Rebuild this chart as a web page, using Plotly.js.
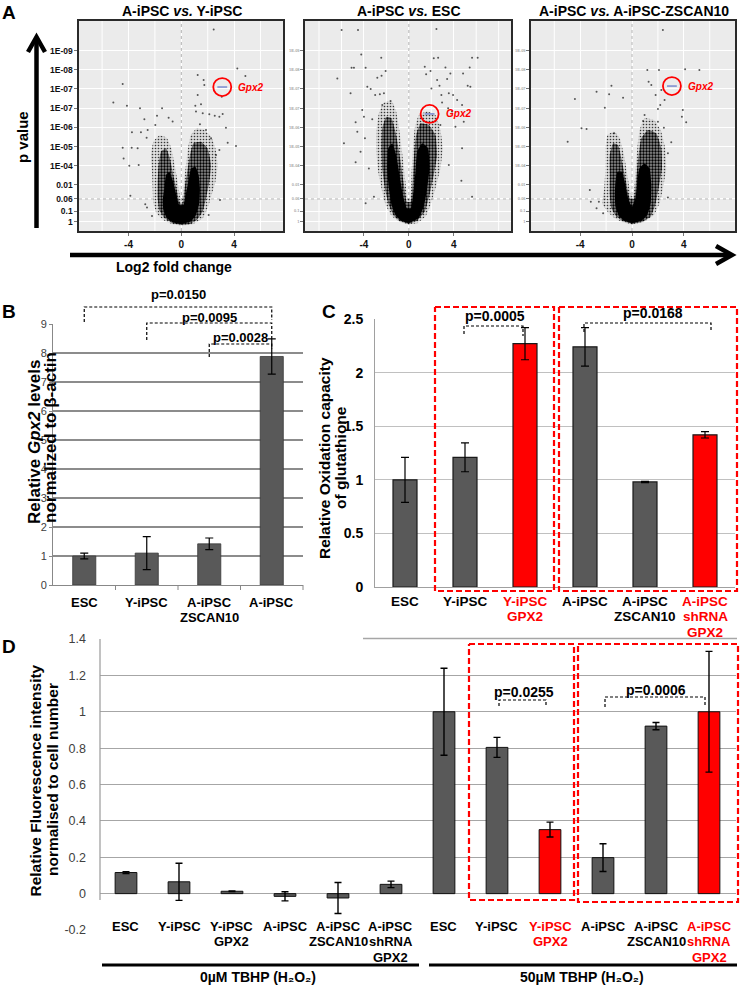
<!DOCTYPE html>
<html><head><meta charset="utf-8">
<script src="https://cdn.plot.ly/plotly-3.0.1.min.js"></script>
<style>html,body{margin:0;padding:0;background:#fff}#chart{width:747px;height:987px}</style>
</head><body><div id="chart"></div>
<script>
// ================= DATA =================
// ---- Panel A : volcano plots (x = log2 fold change, y = p-value scale position) ----
const volcanoTitles = ['A-iPSC <i>vs.</i> Y-iPSC', 'A-iPSC <i>vs.</i> ESC', 'A-iPSC <i>vs.</i> A-iPSC-ZSCAN10'];
const pTickVals = [9.4, 8.4, 7.4, 6.4, 5.4, 4.4, 3.4, 2.4, 1.67, 1.04, 0.49];
const pTickText = ['1E-09', '1E-08', '1E-07', '1E-07', '1E-06', '1E-05', '1E-04', '0.01', '0.06', '0.1', '1'];
const pCutoff = 1.67;           // dotted p = 0.06 line
const fcTickVals = [-4, 0, 4];
const fcTickText = ['-4', '0', '4'];
const geneName = 'Gpx2';

// volcano 1 : A-iPSC vs Y-iPSC
const v1OuterX = [0,-0.66,-1.36,-1.87,-2.12,-2.17,-2.22,-2.30,-2.12,-1.67,-1.11,-0.76,-0.51,-0.28,-0.10,0,0.10,0.20,0.35,0.51,0.71,1.16,1.74,2.25,2.58,2.75,2.58,2.25,1.99,1.62,0.86];
const v1OuterY = [0.28,0.35,0.57,0.92,1.44,2.22,3.09,3.96,4.65,4.97,4.86,4.31,3.44,2.57,1.79,1.61,1.79,2.57,3.44,4.31,4.97,5.35,5.26,4.91,4.31,3.44,2.57,1.79,1.18,0.66,0.35];
const v1MidX = [0,-0.71,-1.29,-1.67,-1.79,-1.79,-1.72,-1.54,-1.16,-0.86,-0.61,-0.35,-0.10,0.10,0.25,0.45,0.66,0.91,1.49,1.99,2.25,2.12,1.87,1.62,1.16,0.61];
const v1MidY = [0.31,0.42,0.69,1.09,1.70,2.57,3.44,4.13,4.31,3.78,2.92,2.14,1.44,1.44,2.22,3.09,3.96,4.57,4.65,4.31,3.44,2.57,1.70,1.01,0.57,0.35];
const v1CoreX = [0,-0.66,-1.11,-1.36,-1.41,-1.29,-1.16,-0.91,-0.66,-0.40,-0.15,0.15,0.35,0.56,0.73,1.06,1.31,1.41,1.36,1.11,0.73];
const v1CoreY = [0.35,0.45,0.69,1.09,1.61,2.22,2.92,3.09,2.66,1.96,1.35,1.35,1.96,2.66,3.26,3.35,2.92,2.22,1.44,0.83,0.49];
const v1PtsX = [2.45,4.24,4.85,1.24,1.69,1.74,-4.44,-5.15,-4.12,-3.13,-1.46,-1.84,-2.8,-0.96,-0.66,-1.97,-2.55,-3.74,-3.06,-2.63,-4.44,-3.76,-3.31,-4.37,-3.94,-3.23,-3.86,-2.73,-2.6,-2.22,1.24,1.06,1.49,1.11,1.62,2.12,2.53,3.13,2.88,3.38,3.06,3.51,4.14,2.88,2.63,2.93,2.07,1.41,1.87,2.25];
const v1PtsY = [10.5,8.47,8.07,8.13,7.86,7.6,7.66,6.70,6.53,6.39,6.39,6.0,5.82,5.9,5.7,5.52,5.26,5.14,5.14,4.86,4.34,4.34,4.31,3.78,3.40,3.44,1.84,1.39,1.22,0.78,7.08,6.53,6.6,6.22,6.13,6.08,6.0,6.09,5.95,5.38,7.0,4.6,4.43,4.22,3.96,1.61,0.83,5.56,5.26,4.83];
const v1Gpx2 = [3.1, 7.5];

// volcano 2 : A-iPSC vs ESC
const v2OuterX = [0,-0.74,-1.48,-2.01,-2.37,-2.73,-2.90,-2.90,-2.67,-2.22,-1.54,-1.13,-0.83,-0.53,-0.30,-0.12,0.12,0.24,0.36,0.53,0.89,1.63,2.37,2.81,3.02,2.81,2.37,1.93,1.48,0.74];
const v2OuterY = [0.35,0.45,0.75,1.27,2.05,3.09,4.13,5.17,6.13,6.70,6.77,6.22,5.17,3.78,2.57,1.70,1.70,2.92,4.31,5.35,6.04,6.22,6.04,5.26,4.31,3.26,2.22,1.35,0.75,0.40];
const v2MidX = [0,-0.71,-1.33,-1.78,-2.13,-2.37,-2.43,-2.37,-2.01,-1.54,-1.13,-0.77,-0.47,-0.18,0.18,0.36,0.47,0.65,1.04,1.78,2.37,2.52,2.22,1.84,1.42,0.74];
const v2MidY = [0.38,0.49,0.80,1.35,2.22,3.26,4.31,5.35,5.95,5.87,5.0,3.78,2.57,1.53,1.53,2.74,3.96,5.0,5.61,5.52,5.0,3.96,2.92,1.88,1.01,0.52];
const v2CoreX = [0,-0.65,-1.19,-1.54,-1.78,-1.93,-1.84,-1.48,-1.13,-0.83,-0.53,-0.18,0.18,0.41,0.59,0.74,1.19,1.72,1.84,1.63,1.33,0.89];
const v2CoreY = [0.40,0.52,0.83,1.35,2.22,3.26,4.31,4.57,3.96,2.92,1.88,1.18,1.18,2.05,3.09,4.13,4.57,4.31,3.26,2.22,1.27,0.66];
const v2PtsX = [-5.99,-4.53,2.46,-4.24,-2.46,-5.1,-4.89,-3.85,-6.37,-2.81,-2.43,-2.07,-5.19,-3.7,-3.4,-3.0,-2.58,-2.22,-2.37,-1.63,-4.15,-4.0,-4.74,-3.26,-4.59,-3.91,-5.78,-4.3,-4.74,-3.56,-3.85,-3.11,2.22,2.61,1.42,1.93,3.26,3.41,3.7,4.83,5.42,5.63,6.13,1.54,2.52,2.01,2.73,2.9,3.56,3.94,5.24,5.48,4.3,2.96,3.5,3.85,4.74,4.89,4.15,2.81,4.74,4.68,3.56,5.63];
const v2PtsY = [10.47,10.47,10.52,9.2,9.03,8.5,8.5,8.5,7.95,7.99,8.09,8.33,7.17,7.52,7.4,7.08,7.12,7.17,6.56,6.77,6.3,5.95,5.66,5.82,5.17,4.83,4.57,4.13,3.58,3.26,1.44,1.79,9.0,9.03,8.56,8.33,8.52,7.92,8.21,8.21,8.52,9.03,9.03,8.16,7.86,7.43,7.57,7.08,7.17,7.08,7.57,7.52,6.82,6.7,6.39,6.22,6.56,5.69,5.43,5.52,4.31,2.62,3.44,1.79];
const v2Gpx2 = [1.85, 6.1];

// volcano 3 : A-iPSC vs A-iPSC-ZSCAN10
const v3OuterX = [0,-0.69,-1.33,-1.90,-2.31,-2.15,-2.05,-2.05,-1.90,-1.38,-0.95,-0.62,-0.36,-0.15,0,0.15,0.26,0.41,0.59,0.97,1.69,2.21,2.56,2.64,2.38,2.13,1.69,0.85];
const v3OuterY = [0.35,0.45,0.66,1.01,1.44,2.22,3.26,4.31,5.0,5.17,4.83,3.96,2.92,2.05,1.79,2.05,3.09,4.31,5.26,5.87,5.78,5.26,4.31,3.26,2.22,1.44,0.83,0.45];
const v3MidX = [0,-0.64,-1.21,-1.59,-1.72,-1.72,-1.72,-1.46,-1.08,-0.77,-0.46,-0.18,0.15,0.33,0.51,0.72,1.23,1.87,2.26,2.31,2.05,1.79,1.44,0.72];
const v3MidY = [0.38,0.49,0.75,1.18,1.88,2.92,3.96,4.57,4.48,3.61,2.57,1.70,1.67,2.74,3.96,4.83,5.26,5.09,4.31,3.26,2.22,1.35,0.75,0.45];
const v3CoreX = [0,-0.56,-1.03,-1.28,-1.33,-1.28,-1.13,-0.77,-0.51,-0.26,0,0.26,0.41,0.56,0.97,1.36,1.49,1.44,1.18,0.72];
const v3CoreY = [0.40,0.52,0.80,1.27,1.88,2.57,3.09,3.09,2.40,1.61,1.27,1.70,2.57,3.26,3.52,3.26,2.40,1.44,0.83,0.52];
const v3PtsX = [2.38,1.18,2.08,4.1,5.2,1.28,1.49,2.26,-1.59,-2.74,-1.77,-4.41,-0.69,-2.1,-3.9,-3.51,-4.97,-1.38,1.82,2.18,2.51,2.0,3.92,3.85,4.18,0.97,0.85,2.0,2.46,3.03,2.77,2.77,-3.26,-3.18,-2.56,-2.74,-2.23];
const v3PtsY = [10.47,8.39,8.39,8.42,8.39,7.78,7.6,7.34,7.57,7.26,7.12,6.88,6.94,6.42,5.35,5.31,4.65,5.09,7.08,6.56,6.82,6.35,6.3,5.95,5.66,6.04,5.73,5.69,5.38,4.62,4.05,1.74,2.14,1.53,1.53,1.18,0.92];
const v3Gpx2 = [3.08, 7.55];

// ---- Panel B : relative Gpx2 levels ----
const bLabels = ['ESC', 'Y-iPSC', 'A-iPSC\nZSCAN10', 'A-iPSC'];
const bValues = [1.0, 1.1, 1.42, 7.88];
const bErrors = [0.1, 0.57, 0.2, 0.61];
const bTicks = [0, 1, 2, 3, 4, 5, 6, 7, 8, 9];
const bComparisons = [[0, 3, 'p=0.0150'], [1, 3, 'p=0.0095'], [2, 3, 'p=0.0028']];

// ---- Panel C : oxidation capacity of glutathione ----
const cLabels = ['ESC', 'Y-iPSC', 'Y-iPSC\nGPX2', 'A-iPSC', 'A-iPSC\nZSCAN10', 'A-iPSC\nshRNA\nGPX2'];
const cValues = [1.0, 1.21, 2.27, 2.24, 0.98, 1.42];
const cErrors = [0.21, 0.135, 0.15, 0.18, 0.006, 0.03];
const cGpx2Modified = [0, 0, 1, 0, 0, 1];
const cTicks = [0, 0.5, 1, 1.5, 2, 2.5];
const cComparisons = [[1, 2, 'p=0.0005'], [3, 5, 'p=0.0168']];
const cGroups = [[1, 2], [3, 5]];

// ---- Panel D : fluorescence intensity ----
const dLabels = ['ESC', 'Y-iPSC', 'Y-iPSC\nGPX2', 'A-iPSC', 'A-iPSC\nZSCAN10', 'A-iPSC\nshRNA\nGPX2',
                 'ESC', 'Y-iPSC', 'Y-iPSC\nGPX2', 'A-iPSC', 'A-iPSC\nZSCAN10', 'A-iPSC\nshRNA\nGPX2'];
const dValues = [0.116, 0.065, 0.013, -0.015, -0.024, 0.051, 1.0, 0.804, 0.352, 0.198, 0.921, 1.0];
const dErrors = [0.005, 0.102, 0.002, 0.025, 0.085, 0.018, 0.239, 0.055, 0.041, 0.076, 0.02, 0.332];
const dGpx2Modified = [0, 0, 0, 0, 0, 0, 0, 0, 1, 0, 0, 1];
const dTicks = [-0.2, 0, 0.2, 0.4, 0.6, 0.8, 1, 1.2, 1.4];
const dTreatments = ['0µM TBHP (H₂O₂)', '50µM TBHP (H₂O₂)'];
const dComparisons = [[7, 8, 'p=0.0255'], [9, 11, 'p=0.0006']];
const dGroups = [[7, 8], [9, 11]];

// ================= LAYOUT HELPERS =================
const FONT = 'Liberation Sans, Arial, Helvetica, sans-serif';
const W = 747, H = 987;
const PX = x => x / W;
const PY = y => 1 - y / H;
const RED = '#ff0000', GREY = '#595959';
const BRACKET_DASH = '3px,2px', BOX_DASH = '6px,3px';

const frameV = [
  {l: 79, r: 283, t: 21, b: 231, xr: [-7.75, 7.7], grid: [-6, -2, 2, 6], tk: [-4, 0, 4]},
  {l: 305, r: 511, t: 21, b: 231, xr: [-9.25, 9.1], grid: [-8, -6, -2, 2, 6, 8], tk: [-4, 0, 4]},
  {l: 531, r: 735, t: 21, b: 231, xr: [-7.8, 7.95], grid: [-6, -2, 2, 6], tk: [-4, 0, 4]}
];
const yRangeV = [0, 10.94];
const fB = {l: 53, r: 303, t: 324, b: 585, n: bLabels.length, ly: 602, pitch: 15, fs: 13};
const fC = {l: 375, r: 735, t: 319, b: 587, n: cLabels.length, ly: 601, pitch: 15.5, fs: 13.5};
const fD = {l: 99.5, r: 735.5, t: 639, b: 930, n: dLabels.length, ly: 926, pitch: 15.5, fs: 13};
const catC = (f, i) => f.l + (i + 0.5) * (f.r - f.l) / f.n;
const bnd = (f, k) => f.l + k * (f.r - f.l) / f.n;

const traces = [], annotations = [], shapes = [];
function ann(text, x, y, o = {}) {
  annotations.push(Object.assign({text, x: PX(x), y: PY(y), xref: 'paper', yref: 'paper', showarrow: false,
    xanchor: 'center', yanchor: 'middle', font: {family: FONT, size: 13, color: '#000'}}, o));
}
function line(x0, y0, x1, y1, color, width, dash) {
  shapes.push({type: 'line', xref: 'paper', yref: 'paper', x0: PX(x0), y0: PY(y0), x1: PX(x1), y1: PY(y1),
    line: {color, width, dash: dash || 'solid'}});
}
function path(pts, color, width, dash) {
  const d = pts.map((p, i) => (i ? 'L' : 'M') + PX(p[0]).toFixed(5) + ',' + PY(p[1]).toFixed(5)).join(' ');
  shapes.push({type: 'path', xref: 'paper', yref: 'paper', path: d, fillcolor: 'rgba(0,0,0,0)',
    line: {color, width, dash: dash || 'solid'}});
}
// category labels, one annotation per text line, centred under each category
function catLabels(f, labels, flags) {
  labels.forEach((s, i) => s.split('\n').forEach((t, j) =>
    ann('<b>' + t + '</b>', catC(f, i), f.ly + j * f.pitch,
      {font: {family: FONT, size: f.fs, color: flags && flags[i] ? RED : '#000'}})));
}

const layout = {
  width: W, height: H, margin: {l: 0, r: 0, t: 0, b: 0}, paper_bgcolor: '#fff', plot_bgcolor: 'rgba(0,0,0,0)',
  showlegend: false, font: {family: FONT, color: '#000'}, annotations, shapes
};

// ================= PANEL A =================
const volc = [
  {outer: [v1OuterX, v1OuterY], mid: [v1MidX, v1MidY], core: [v1CoreX, v1CoreY], pts: [v1PtsX, v1PtsY], gene: v1Gpx2},
  {outer: [v2OuterX, v2OuterY], mid: [v2MidX, v2MidY], core: [v2CoreX, v2CoreY], pts: [v2PtsX, v2PtsY], gene: v2Gpx2},
  {outer: [v3OuterX, v3OuterY], mid: [v3MidX, v3MidY], core: [v3CoreX, v3CoreY], pts: [v3PtsX, v3PtsY], gene: v3Gpx2}
];
const cloudStyle = {
  outer: {fillcolor: 'rgba(0,0,0,0.12)', fillpattern: {shape: '.', fgcolor: 'rgba(0,0,0,0.75)', bgcolor: 'rgba(0,0,0,0.08)', size: 3, solidity: 0.22}},
  mid: {fillcolor: 'rgba(0,0,0,0.45)', fillpattern: {shape: '.', fgcolor: '#000', bgcolor: 'rgba(0,0,0,0.38)', size: 3, solidity: 0.45}},
  core: {fillcolor: 'rgba(0,0,0,1)'}
};
volc.forEach((v, k) => {
  const f = frameV[k];
  const sfx = k === 0 ? '' : String(k + 1);
  const xa = 'x' + sfx, ya = 'y' + sfx;
  layout['xaxis' + sfx] = {
    domain: [PX(f.l), PX(f.r)], range: f.xr, anchor: ya, tickmode: 'array', tickvals: f.tk,
    ticktext: f.tk.map(g => '<b>' + fcTickText[fcTickVals.indexOf(g)] + '</b>'),
    ticks: 'outside', ticklen: 3, tickcolor: '#777', tickfont: {size: 10, color: '#111'},
    showgrid: true, gridcolor: '#ffffff', gridwidth: 1, zeroline: false,
    showline: true, mirror: true, linecolor: '#2a2a2a', linewidth: 1.6, fixedrange: true
  };
  layout['yaxis' + sfx] = {
    domain: [PY(f.b), PY(f.t)], range: yRangeV, anchor: xa, tickmode: 'array', tickvals: pTickVals,
    ticktext: pTickText.map(t => '<b>' + t + '</b>'), ticks: 'outside', ticklen: 3, tickcolor: '#777',
    tickfont: {size: k === 0 ? 8.5 : 4, color: k === 0 ? '#111' : '#aaa'},
    showgrid: true, gridcolor: '#ffffff', gridwidth: 1, zeroline: false,
    showline: true, mirror: true, linecolor: '#2a2a2a', linewidth: 1.6, fixedrange: true
  };
  shapes.push({type: 'rect', xref: xa + ' domain', yref: ya + ' domain', x0: 0, x1: 1, y0: 0, y1: 1,
    fillcolor: '#ebebeb', line: {width: 0}, layer: 'below'});
  f.grid.forEach(g => shapes.push({type: 'line', xref: xa, yref: ya + ' domain', x0: g, x1: g, y0: 0, y1: 1,
    line: {color: '#ffffff', width: 1}, layer: 'below'}));
  // dotted reference lines (fold change 0, p = 0.06)
  traces.push({type: 'scatter', mode: 'lines', x: [0, 0], y: yRangeV, xaxis: xa, yaxis: ya, hoverinfo: 'skip',
    line: {color: '#b4b4b4', width: 1, dash: 'dot'}});
  traces.push({type: 'scatter', mode: 'lines', x: f.xr, y: [pCutoff, pCutoff], xaxis: xa, yaxis: ya, hoverinfo: 'skip',
    line: {color: '#b4b4b4', width: 1, dash: 'dot'}});
  ['outer', 'mid', 'core'].forEach(key => traces.push(Object.assign({
    type: 'scatter', mode: 'lines', x: v[key][0], y: v[key][1], fill: 'toself',
    line: {width: 0, shape: 'spline', smoothing: 0.4}, xaxis: xa, yaxis: ya, hoverinfo: 'skip'
  }, cloudStyle[key])));
  traces.push({type: 'scatter', mode: 'markers', x: v.pts[0], y: v.pts[1],
    marker: {size: 2, color: 'rgba(20,20,20,0.7)'}, xaxis: xa, yaxis: ya, hoverinfo: 'skip'});
  traces.push({type: 'scatter', mode: 'markers', x: [v.gene[0]], y: [v.gene[1]],
    marker: {symbol: 'line-ew-open', size: 7, color: '#7f8fd0', line: {width: 1.6, color: '#7f8fd0'}}, xaxis: xa, yaxis: ya});
  traces.push({type: 'scatter', mode: 'markers', x: [v.gene[0]], y: [v.gene[1]],
    marker: {symbol: 'circle-open', size: 18, color: RED, line: {width: 1.8, color: RED}}, xaxis: xa, yaxis: ya});
  annotations.push({text: '<b><i>' + geneName + '</i></b>', x: v.gene[0], y: v.gene[1], xref: xa, yref: ya,
    xanchor: 'left', yanchor: 'middle', xshift: 14, showarrow: false, font: {family: FONT, size: 10, color: RED}});
  ann('<b>' + volcanoTitles[k] + '</b>', (f.l + f.r) / 2 + 1, 11, {font: {family: FONT, size: 14, color: '#000'}});
});
// axes arrows
line(36.5, 228, 36.5, 40, '#000', 4.5);
path([[28, 52], [36.5, 37], [45, 52]], '#000', 4.5);
line(70, 255, 731, 255, '#000', 4.5);
path([[716, 246], [732, 255], [716, 264]], '#000', 4.5);
ann('<b>p value</b>', 22, 137, {textangle: -90, font: {family: FONT, size: 15, color: '#000'}});
ann('<b>Log2 fold change</b>', 174, 267, {font: {family: FONT, size: 14, color: '#000'}});
ann('<b>A</b>', 9, 13, {font: {family: FONT, size: 19, color: '#000'}});

// ================= PANEL B =================
traces.push({type: 'bar', x: bLabels.map((_, i) => i), y: bValues, width: 0.37, xaxis: 'x4', yaxis: 'y4',
  marker: {color: GREY, line: {color: '#3a3a3a', width: 0.8}},
  error_y: {type: 'data', array: bErrors, visible: true, color: '#000', thickness: 1.2, width: 4}});
layout.xaxis4 = {domain: [PX(fB.l), PX(fB.r)], range: [-0.5, fB.n - 0.5], anchor: 'y4', tickmode: 'array',
  tickvals: bLabels.map((_, i) => i), showticklabels: false, ticks: '',
  showline: true, linecolor: '#888', linewidth: 1, zeroline: false, showgrid: false, fixedrange: true};
layout.yaxis4 = {domain: [PY(fB.b), PY(fB.t)], range: [0, 9], anchor: 'x4', tickmode: 'array', tickvals: bTicks,
  ticks: 'outside', ticklen: 3, tickcolor: '#888', tickfont: {size: 11, color: '#404040'},
  showgrid: true, gridcolor: '#8c8c8c', gridwidth: 1.2, zeroline: false, showline: true, linecolor: '#888', fixedrange: true};
for (let k = 1; k <= fB.n; k++) line(bnd(fB, k), fB.b, bnd(fB, k), fB.b + 5, '#888', 1);
catLabels(fB, bLabels, null);
const bBr = [{top: 307, legL: 15, legR: 13, ty: 295}, {top: 323, legL: 17, legR: 17, ty: 317}, {top: 344, legL: 13, legR: 5, ty: 338}];
bComparisons.forEach(([i, j, t], k) => {
  const g = bBr[k], x1 = catC(fB, i), x2 = catC(fB, j);
  path([[x1, g.top + g.legL], [x1, g.top], [x2, g.top], [x2, g.top + g.legR]], '#000', 1.2, BRACKET_DASH);
  ann('<b>' + t + '</b>', (x1 + x2) / 2, g.ty, {font: {family: FONT, size: 13, color: '#000'}});
});
ann('<b>Relative <i>Gpx2</i> levels</b>', 34, 442, {textangle: -90, font: {family: FONT, size: 17, color: '#000'}});
ann('<b>normalized to β-actin</b>', 50, 438, {textangle: -90, font: {family: FONT, size: 17, color: '#000'}});
ann('<b>B</b>', 9, 311, {font: {family: FONT, size: 19, color: '#000'}});

// ================= PANEL C =================
traces.push({type: 'bar', x: cLabels.map((_, i) => i), y: cValues, width: 0.4, xaxis: 'x5', yaxis: 'y5',
  marker: {color: cGpx2Modified.map(h => h ? RED : GREY), line: {color: '#1a1a1a', width: 1.2}},
  error_y: {type: 'data', array: cErrors, visible: true, color: '#000', thickness: 1.2, width: 4}});
layout.xaxis5 = {domain: [PX(fC.l), PX(fC.r)], range: [-0.5, fC.n - 0.5], anchor: 'y5', tickmode: 'array',
  tickvals: cLabels.map((_, i) => i), showticklabels: false, ticks: '',
  showline: true, linecolor: '#a0a0a0', linewidth: 1, zeroline: false, showgrid: false, fixedrange: true};
layout.yaxis5 = {domain: [PY(fC.b), PY(fC.t)], range: [0, 2.5], anchor: 'x5', tickmode: 'array', tickvals: cTicks,
  ticktext: cTicks.map(t => '<b>' + t + '</b>'), ticks: 'outside', ticklen: 8, tickcolor: 'rgba(0,0,0,0)',
  tickfont: {size: 14, color: '#000'}, showgrid: true, gridcolor: '#c0c0c0', gridwidth: 1.2, zeroline: false,
  showline: true, linecolor: '#a0a0a0', fixedrange: true};
catLabels(fC, cLabels, cGpx2Modified);
const cBoxAdj = [[0, -1], [4, 2]];
cGroups.forEach(([i, j], k) => {
  const x0 = bnd(fC, i) + cBoxAdj[k][0], x1 = bnd(fC, j + 1) + cBoxAdj[k][1];
  path([[x0, 307], [x1, 307], [x1, 591], [x0, 591], [x0, 307]], RED, 2.2, BOX_DASH);
});
const cBr = [{top: 326, legL: 8, legR: 10, ty: 316, dR: -2, dt: 0}, {top: 323, legL: 9, legR: 8, ty: 313, dR: 6, dt: 8}];
cComparisons.forEach(([i, j, t], k) => {
  const g = cBr[k], x1 = catC(fC, i) - 1, x2 = catC(fC, j) + g.dR;
  path([[x1, g.top + g.legL], [x1, g.top], [x2, g.top], [x2, g.top + g.legR]], '#000', 1.2, BRACKET_DASH);
  ann('<b>' + t + '</b>', (catC(fC, i) + catC(fC, j)) / 2 + g.dt, g.ty, {font: {family: FONT, size: 14, color: '#000'}});
});
ann('<b>Relative Oxidation capacity</b>', 324, 458, {textangle: -90, font: {family: FONT, size: 15.5, color: '#000'}});
ann('<b>of glutathione</b>', 340, 458, {textangle: -90, font: {family: FONT, size: 15.5, color: '#000'}});
ann('<b>C</b>', 329, 311, {font: {family: FONT, size: 19, color: '#000'}});

// ================= PANEL D =================
traces.push({type: 'bar', x: dLabels.map((_, i) => i), y: dValues, width: 0.41, xaxis: 'x6', yaxis: 'y6',
  marker: {color: dGpx2Modified.map(h => h ? RED : GREY), line: {color: '#111', width: 1}},
  error_y: {type: 'data', array: dErrors, visible: true, color: '#000', thickness: 1.4, width: 3.5}});
traces.push({type: 'scatter', mode: 'markers', x: [0], y: [0], xaxis: 'x6', yaxis: 'y7',
  marker: {opacity: 0}, hoverinfo: 'skip'});
layout.xaxis6 = {domain: [PX(fD.l), PX(fD.r)], range: [-0.5, fD.n - 0.5], anchor: 'y6',
  tickmode: 'array', tickvals: dLabels.map((_, i) => i), showticklabels: false,
  ticks: '', showline: false, zeroline: false, showgrid: false, fixedrange: true};
layout.yaxis6 = {domain: [PY(fD.b), PY(fD.t)], range: [-0.2, 1.4], anchor: 'x6', tickmode: 'array', tickvals: dTicks,
  ticktext: dTicks.map(t => String(t)), ticks: 'outside', ticklen: 10, tickcolor: 'rgba(0,0,0,0)',
  tickfont: {size: 12.5, color: '#404040'}, showgrid: false, zeroline: false, showline: false, fixedrange: true};
layout.yaxis7 = {domain: [PY(fD.b), PY(fD.t)], range: [-0.2, 1.4], anchor: 'x6', overlaying: 'y6', tickmode: 'array',
  tickvals: dTicks.filter(t => t >= 0 && t < 1.35), showticklabels: false, ticks: '',
  showgrid: true, gridcolor: '#a6a6a6', gridwidth: 1.2, zeroline: false, showline: false, fixedrange: true};
catLabels(fD, dLabels, dGpx2Modified);
line(100, 639, 100, 900, '#999', 1.2);
line(363, 638.5, 737, 638.5, '#a6a6a6', 1.4);
const dBoxAdj = [[-1.5, -2.5], [1.5, 2.5]];
const dBoxBottom = [900, 902];
dGroups.forEach(([i, j], k) => {
  const x0 = bnd(fD, i) + dBoxAdj[k][0], x1 = bnd(fD, j + 1) + dBoxAdj[k][1];
  path([[x0, 644], [x1, 644], [x1, dBoxBottom[k]], [x0, dBoxBottom[k]], [x0, 644]], RED, 2.2, BOX_DASH);
});
const dBr = [{top: 700, legL: 6, legR: 6, ty: 692}, {top: 697, legL: 10, legR: 10, ty: 690}];
dComparisons.forEach(([i, j, t], k) => {
  const g = dBr[k], x1 = catC(fD, i) + 2, x2 = catC(fD, j) - 4;
  path([[x1, g.top + g.legL], [x1, g.top], [x2, g.top], [x2, g.top + g.legR]], '#000', 1.2, BRACKET_DASH);
  ann('<b>' + t + '</b>', (catC(fD, i) + catC(fD, j)) / 2, g.ty, {font: {family: FONT, size: 14, color: '#000'}});
});
// treatment group bars
line(102, 965, 419, 965, '#000', 3.2);
line(429, 965, 737, 965, '#000', 3.2);
ann('<b>' + dTreatments[0] + '</b>', 258, 977, {font: {family: FONT, size: 14, color: '#000'}});
ann('<b>' + dTreatments[1] + '</b>', 582, 977, {font: {family: FONT, size: 14, color: '#000'}});
ann('<b>Relative Fluorescence intensity</b>', 34.5, 781, {textangle: -90, font: {family: FONT, size: 15.5, color: '#000'}});
ann('<b>normalised to cell number</b>', 52, 780, {textangle: -90, font: {family: FONT, size: 15.5, color: '#000'}});
ann('<b>D</b>', 9, 646, {font: {family: FONT, size: 19, color: '#000'}});

Plotly.newPlot('chart', traces, layout, {staticPlot: true, displayModeBar: false});
</script>
</body></html>
